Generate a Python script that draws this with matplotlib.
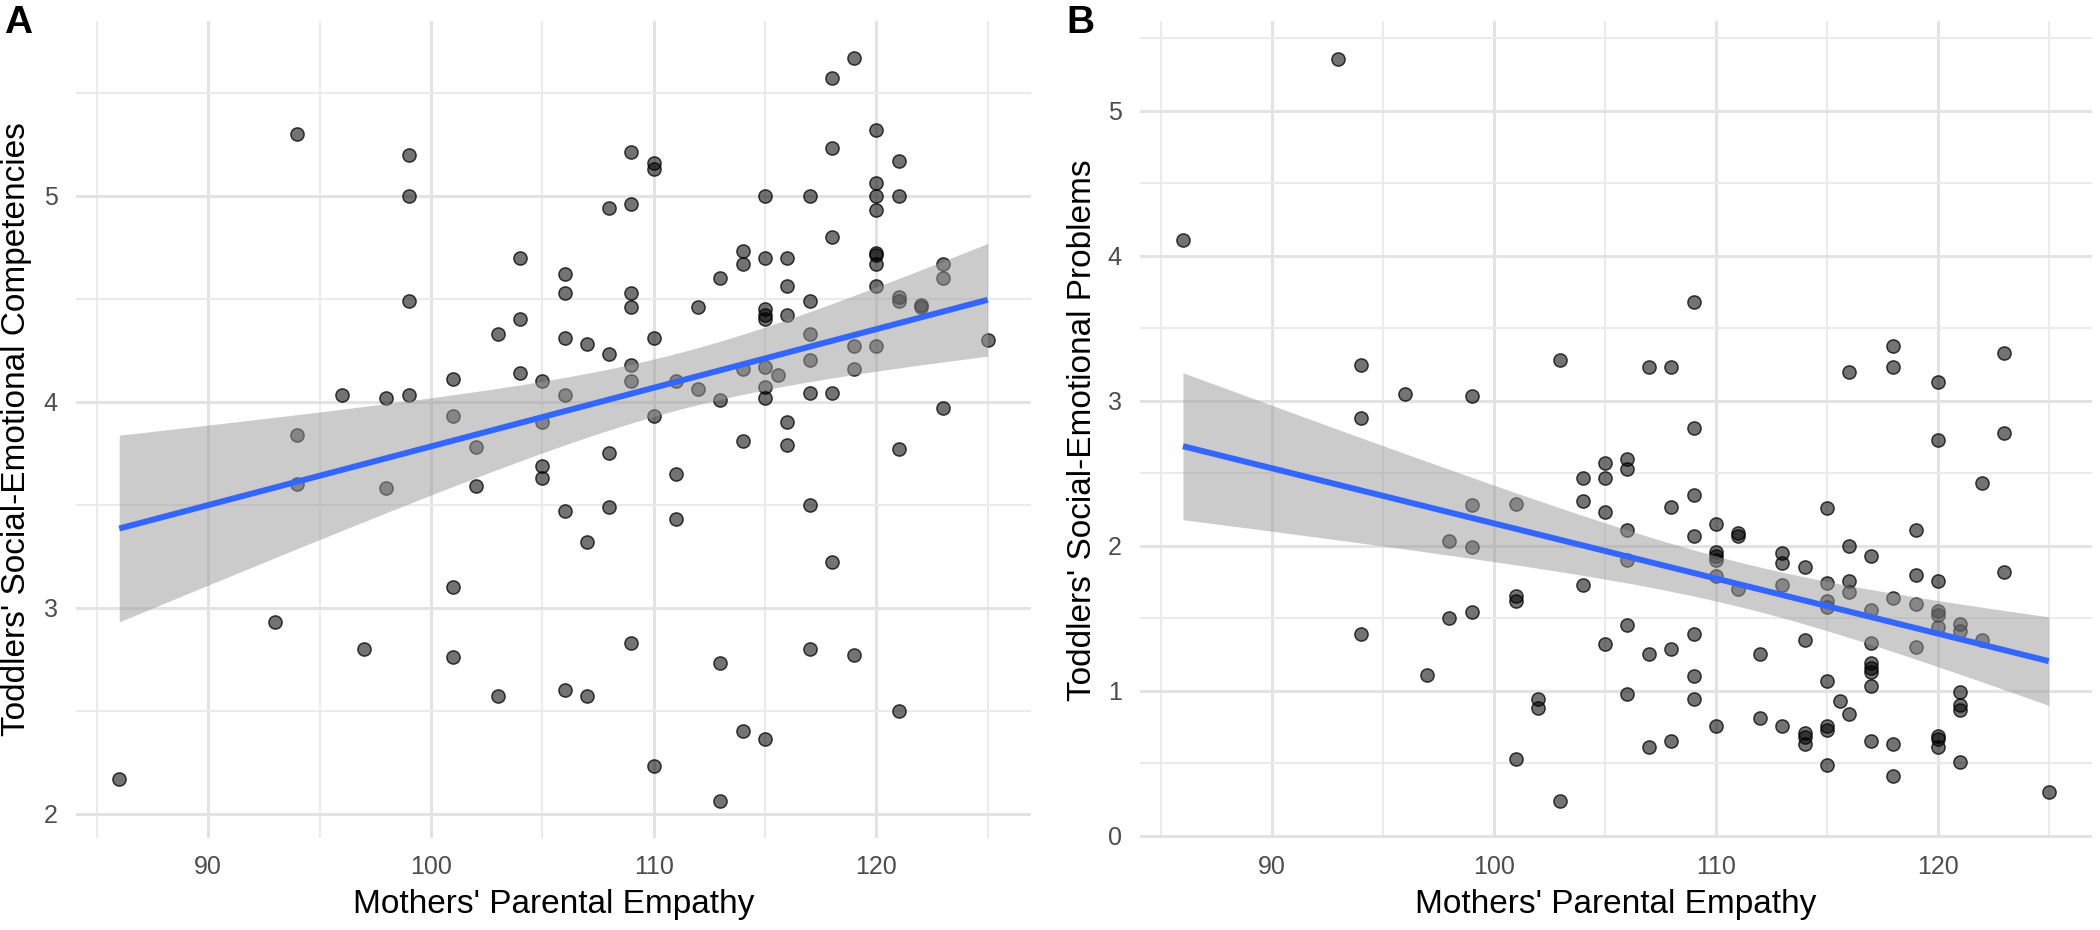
import numpy as np
import matplotlib
matplotlib.use("Agg")
import matplotlib.pyplot as plt
from matplotlib.ticker import FixedLocator

plt.rcParams['font.family'] = ['Liberation Sans', 'DejaVu Sans']

# ---------------- data ----------------
# Panel A: Mothers' parental empathy vs toddlers' social-emotional competencies
empathy_a = [86,
             93,
             94, 94, 94,
             96,
             97,
             98, 98,
             99, 99, 99, 99,
             101, 101, 101, 101,
             102, 102,
             103, 103,
             104, 104, 104,
             105, 105, 105, 105,
             106, 106, 106, 106, 106, 106,
             107, 107, 107,
             108, 108, 108, 108,
             109, 109, 109, 109, 109, 109, 109,
             110, 110, 110, 110, 110,
             111, 111, 111,
             112, 112,
             113, 113, 113, 113,
             114, 114, 114, 114, 114,
             115, 115, 115, 115, 115, 115, 115, 115, 115,
             115.6,
             116, 116, 116, 116, 116,
             117, 117, 117, 117, 117, 117, 117,
             118, 118, 118, 118, 118,
             119, 119, 119, 119,
             120, 120, 120, 120, 120, 120, 120, 120, 120,
             121, 121, 121, 121, 121, 121,
             122, 122,
             123, 123, 123,
             125]
competencies = [2.17,
                2.93,
                5.30, 3.84, 3.60,
                4.03,
                2.80,
                4.02, 3.58,
                5.20, 5.00, 4.49, 4.03,
                4.11, 3.93, 3.10, 2.76,
                3.78, 3.59,
                4.33, 2.57,
                4.70, 4.40, 4.14,
                4.10, 3.90, 3.69, 3.63,
                4.62, 4.53, 4.31, 4.03, 3.47, 2.60,
                4.28, 3.32, 2.57,
                4.94, 4.23, 3.75, 3.49,
                5.21, 4.96, 4.53, 4.46, 4.18, 4.10, 2.83,
                5.16, 5.13, 4.31, 3.93, 2.23,
                4.10, 3.65, 3.43,
                4.46, 4.06,
                4.60, 4.01, 2.73, 2.06,
                4.73, 4.67, 4.16, 3.81, 2.40,
                5.00, 4.70, 4.45, 4.42, 4.40, 4.17, 4.07, 4.02, 2.36,
                4.13,
                4.70, 4.56, 4.42, 3.90, 3.79,
                5.00, 4.49, 4.33, 4.20, 4.04, 3.50, 2.80,
                5.57, 5.23, 4.80, 4.04, 3.22,
                5.67, 4.27, 4.16, 2.77,
                5.32, 5.06, 5.00, 4.93, 4.72, 4.71, 4.67, 4.56, 4.27,
                5.17, 5.00, 4.51, 4.49, 3.77, 2.50,
                4.47, 4.46,
                4.67, 4.60, 3.97,
                4.30]

# Panel B: Mothers' parental empathy vs toddlers' social-emotional problems
empathy_b = [86,
             93,
             94, 94, 94,
             96,
             97,
             98, 98,
             99, 99, 99, 99,
             101, 101, 101, 101,
             102, 102,
             103, 103,
             104, 104, 104,
             105, 105, 105, 105,
             106, 106, 106, 106, 106, 106,
             107, 107, 107,
             108, 108, 108, 108,
             109, 109, 109, 109, 109, 109, 109,
             110, 110, 110, 110, 110, 110,
             111, 111, 111,
             112, 112,
             113, 113, 113, 113,
             114, 114, 114, 114, 114,
             115, 115, 115, 115, 115, 115, 115, 115,
             115.6,
             116, 116, 116, 116, 116,
             117, 117, 117, 117, 117, 117, 117, 117,
             118, 118, 118, 118, 118,
             119, 119, 119, 119,
             120, 120, 120, 120, 120, 120, 120, 120, 120,
             121, 121, 121, 121, 121, 121,
             122, 122,
             123, 123, 123,
             125]
problems = [4.11,
            5.36,
            3.25, 2.88, 1.39,
            3.05,
            1.11,
            2.03, 1.50,
            3.03, 2.28, 1.99, 1.54,
            2.29, 1.65, 1.62, 0.53,
            0.94, 0.88,
            3.28, 0.24,
            2.47, 2.31, 1.73,
            2.57, 2.47, 2.23, 1.32,
            2.60, 2.53, 2.11, 1.90, 1.45, 0.98,
            3.23, 1.25, 0.61,
            3.23, 2.27, 1.29, 0.65,
            3.68, 2.81, 2.35, 2.07, 1.39, 1.10, 0.94,
            2.15, 1.96, 1.93, 1.90, 1.79, 0.76,
            2.09, 2.07, 1.70,
            1.25, 0.81,
            1.95, 1.88, 1.73, 0.76,
            1.85, 1.35, 0.71, 0.68, 0.63,
            2.26, 1.74, 1.62, 1.58, 1.07, 0.76, 0.73, 0.49,
            0.93,
            3.20, 2.00, 1.76, 1.68, 0.84,
            1.93, 1.56, 1.33, 1.19, 1.16, 1.13, 1.03, 0.65,
            3.38, 3.23, 1.64, 0.63, 0.41,
            2.11, 1.80, 1.60, 1.30,
            3.13, 2.73, 1.76, 1.55, 1.52, 1.44, 0.69, 0.67, 0.61,
            1.46, 1.41, 0.99, 0.90, 0.87, 0.51,
            2.43, 1.35,
            3.33, 2.78, 1.82,
            0.30]

x_major = [90, 100, 110, 120]
x_minor = [85, 95, 105, 115, 125]
ya_major = [2, 3, 4, 5]
ya_minor = [2.5, 3.5, 4.5, 5.5]
yb_major = [0, 1, 2, 3, 4, 5]
yb_minor = [0.5, 1.5, 2.5, 3.5, 4.5, 5.5]

x_title = "Mothers' Parental Empathy"
ya_title = "Toddlers' Social-Emotional Competencies"
yb_title = "Toddlers' Social-Emotional Problems"
panel_tags = ["A", "B"]


def lm_band(x, y, n_grid=80, t_crit=1.98):
    x = np.asarray(x, float)
    y = np.asarray(y, float)
    b1, b0 = np.polyfit(x, y, 1)
    xs = np.linspace(x.min(), x.max(), n_grid)
    yhat = b0 + b1 * xs
    resid = y - (b0 + b1 * x)
    n = len(x)
    s = np.sqrt(np.sum(resid ** 2) / (n - 2))
    sxx = np.sum((x - x.mean()) ** 2)
    se = s * np.sqrt(1.0 / n + (xs - x.mean()) ** 2 / sxx)
    return xs, yhat, yhat - t_crit * se, yhat + t_crit * se


def draw_panel(ax, x, y, ymaj, ymin_, ylabel, ylab_x):
    assert len(x) == len(y)
    ax.set_facecolor('white')
    for sp in ax.spines.values():
        sp.set_visible(False)
    ax.scatter(x, y, s=90, facecolors=[(0, 0, 0, 0.55)],
               edgecolors=[(0, 0, 0, 0.75)], linewidths=1.1, zorder=3)
    xs, yh, lo, hi = lm_band(x, y)
    ax.fill_between(xs, lo, hi, color='#999999', alpha=0.5, linewidth=0, zorder=4)
    ax.plot(xs, yh, color='#3366FF', lw=4.3, zorder=5, solid_capstyle='butt')

    xa, ya = np.asarray(x, float), np.asarray(y, float)
    xr = xa.max() - xa.min()
    yr = ya.max() - ya.min()
    ax.set_xlim(xa.min() - 0.05 * xr, xa.max() + 0.05 * xr)
    ax.set_ylim(ya.min() - 0.05 * yr, ya.max() + 0.05 * yr)

    ax.xaxis.set_major_locator(FixedLocator(x_major))
    ax.xaxis.set_minor_locator(FixedLocator(x_minor))
    ax.yaxis.set_major_locator(FixedLocator(ymaj))
    ax.yaxis.set_minor_locator(FixedLocator(ymin_))
    ax.set_axisbelow(True)
    ax.grid(which='major', color='#E3E3E3', lw=2.2)
    ax.grid(which='minor', color='#EBEBEB', lw=1.5)
    ax.tick_params(which='both', length=0)
    ax.tick_params(axis='x', which='major', labelsize=18, labelcolor='#4D4D4D', pad=12)
    ax.tick_params(axis='y', which='major', labelsize=18, labelcolor='#4D4D4D', pad=13)

    ax.set_xlabel(x_title, fontsize=24, color='black')
    ax.xaxis.label.set_va('baseline')
    ax.xaxis.set_label_coords(0.5, -0.0915)
    ax.set_ylabel(ylabel, fontsize=24, color='black')
    ax.yaxis.label.set_va('center')
    ax.yaxis.set_label_coords(ylab_x, 0.5)


fig = plt.figure(figsize=(21, 9.3), dpi=100)
fig.patch.set_facecolor('white')
ax_a = fig.add_axes([0.0361, 0.0985, 0.4549, 0.8794])
ax_b = fig.add_axes([0.5427, 0.0989, 0.4535, 0.8780])

draw_panel(ax_a, empathy_a, competencies, ya_major, ya_minor, ya_title, -0.0616)
draw_panel(ax_b, empathy_b, problems, yb_major, yb_minor, yb_title, -0.0605)

fig.text(0.0020, 0.9642, panel_tags[0], fontsize=28, fontweight='bold', ha='left', va='baseline')
fig.text(0.5076, 0.9648, panel_tags[1], fontsize=28, fontweight='bold', ha='left', va='baseline')

fig.savefig('out.png', dpi=100, facecolor='white')
